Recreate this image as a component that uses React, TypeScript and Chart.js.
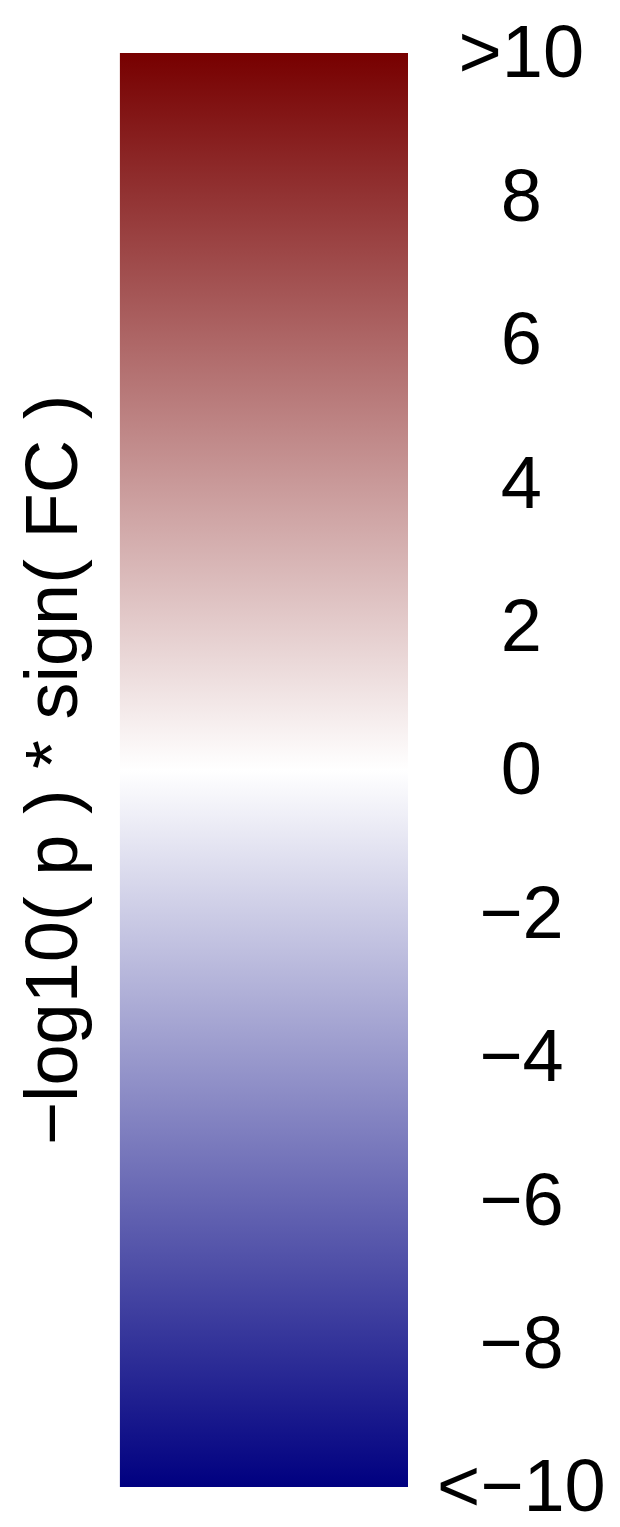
import React, { useEffect, useRef } from "react";
import { Chart, registerables } from "chart.js";

Chart.register(...registerables);

const categories = [""];
const rangeMin = -10;
const rangeMax = 10;
const barRange: [number, number][] = [[-10, 10]];
const stopValues = [-10, 0, 10];
const stopColors = ["#000080", "#FFFFFF", "#770000"];
const tickValues = [-10, -8, -6, -4, -2, 0, 2, 4, 6, 8, 10];
const tickLabels = ["<\u221210", "\u22128", "\u22126", "\u22124", "\u22122", "0", "2", "4", "6", "8", ">10"];
const titleText = "\u2212log10( p ) * sign( FC )";

export default function App() {
  const ref = useRef<HTMLCanvasElement | null>(null);

  useEffect(() => {
    if (!ref.current) return;
    const font = { family: "'Liberation Sans', Arial, Helvetica, sans-serif", size: 74 };
    const chart = new Chart(ref.current, {
      type: "bar",
      data: {
        labels: categories,
        datasets: [
          {
            data: barRange as any,
            barPercentage: 1,
            categoryPercentage: 1,
            borderWidth: 0,
            backgroundColor: (ctx: any) => {
              const c = ctx.chart;
              const area = c.chartArea;
              if (!area) return stopColors[0];
              const y = c.scales.y;
              const g = c.ctx.createLinearGradient(0, y.getPixelForValue(rangeMin), 0, y.getPixelForValue(rangeMax));
              stopValues.forEach((v, i) => {
                g.addColorStop((v - rangeMin) / (rangeMax - rangeMin), stopColors[i]);
              });
              return g;
            },
          },
        ],
      },
      options: {
        animation: false,
        responsive: false,
        layout: { padding: { top: 53, bottom: 40, left: 0, right: 0 } },
        plugins: {
          legend: { display: false },
          tooltip: { enabled: false },
          title: {
            display: true,
            position: "left",
            text: titleText,
            color: "#000000",
            font: { ...font, weight: "normal" as any },
            padding: { top: 12, bottom: 19 },
          },
        },
        scales: {
          x: { display: false },
          y: {
            position: "right",
            min: rangeMin,
            max: rangeMax,
            afterBuildTicks: (scale: any) => {
              scale.ticks = tickValues.map((v) => ({ value: v }));
            },
            afterFit: (scale: any) => {
              scale.width = 212;
              scale.paddingTop = 0;
              scale.paddingBottom = 0;
            },
            grid: { display: false },
            border: { display: false },
            ticks: {
              color: "#000000",
              font,
              padding: 21,
              labelOffset: 4,
              crossAlign: "center",
              autoSkip: false,
              callback: (value: any) => {
                const i = tickValues.indexOf(Number(value));
                return i >= 0 ? tickLabels[i] : "";
              },
            },
          },
        },
      },
    });
    return () => chart.destroy();
  }, []);

  return (
    <div style={{ position: "fixed", left: 0, top: 0, width: 620, height: 1527, background: "#ffffff" }}>
      <canvas ref={ref} width={620} height={1527} style={{ display: "block" }} />
    </div>
  );
}
